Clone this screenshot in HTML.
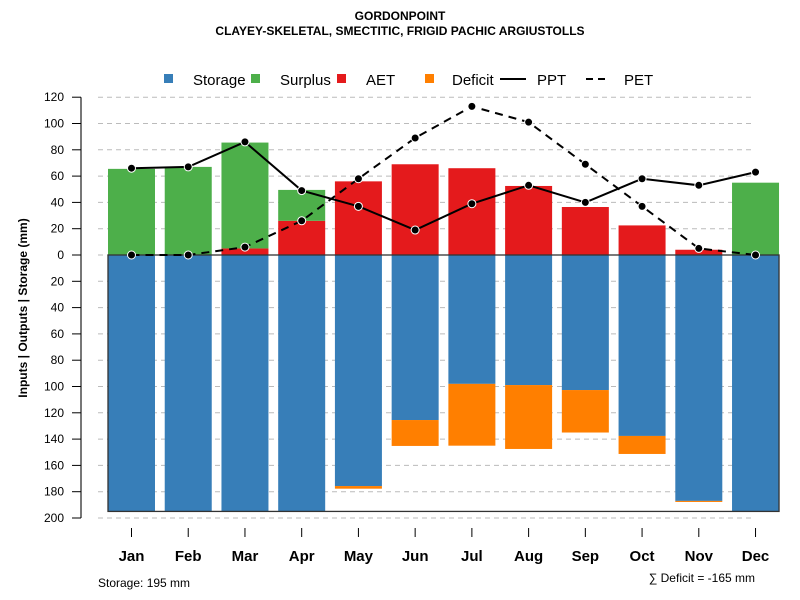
<!DOCTYPE html>
<html><head><meta charset="utf-8"><style>
body{margin:0;background:#fff}
svg{display:block;font-family:"Liberation Sans",sans-serif}
</style></head><body>
<svg id="chart" width="800" height="600">
<text x="400" y="20" text-anchor="middle" font-size="12" font-weight="bold">GORDONPOINT</text>
<text x="400" y="35" text-anchor="middle" font-size="12" font-weight="bold">CLAYEY-SKELETAL, SMECTITIC, FRIGID PACHIC ARGIUSTOLLS</text>
<g font-size="15">
<rect x="164" y="74" width="9" height="9" fill="#377EB8"/>
<text x="193" y="85">Storage</text>
<rect x="251" y="74" width="9" height="9" fill="#4DAF4A"/>
<text x="280" y="85">Surplus</text>
<rect x="337" y="74" width="9" height="9" fill="#E41A1C"/>
<text x="366" y="85">AET</text>
<rect x="425" y="74" width="9" height="9" fill="#FF7F00"/>
<text x="452" y="85">Deficit</text>
<line x1="500" y1="79" x2="526" y2="79" stroke="#000" stroke-width="2"/>
<text x="537" y="85">PPT</text>
<line x1="586" y1="79" x2="610" y2="79" stroke="#000" stroke-width="2" stroke-dasharray="7,5"/>
<text x="624" y="85">PET</text>
</g>
<text transform="translate(27,308) rotate(-90)" text-anchor="middle" font-size="12" font-weight="bold">Inputs | Outputs | Storage     (mm)</text>
<text x="98" y="587" font-size="12">Storage: 195 mm</text>
<text x="755" y="582" text-anchor="end" font-size="12">∑ Deficit = -165 mm</text>
<g id="grid"></g><g id="bars"></g><g id="lines"></g><g id="axes"></g>
</svg>
<script>
const months=["Jan","Feb","Mar","Apr","May","Jun","Jul","Aug","Sep","Oct","Nov","Dec"];
const aet=[0,0,5,26,56,69,66,52.5,36.5,22.5,4,0];
const surplus=[65.5,67,80.5,23.5,0,0,0,0,0,0,0,55];
const storage=[195,195,195,195,175.7,125.5,98,98.9,102.7,137.6,187,195];
const deficit=[0,0,0,0,2,19.7,47,48.6,32.3,13.7,0.8,0];
const ppt=[66,67,86,49,37,19,39,53,40,58,53,63];
const pet=[0,0,6,26,58,89,113,101,69,37,5,0];
const yTicks=[120,100,80,60,40,20,0,20,40,60,80,100,120,140,160,180,200];
const NS="http://www.w3.org/2000/svg";
const y0=255,k=1.315;
const yUp=v=>y0-v*k, yDn=v=>y0+v*k;
const xC=i=>131.5+i*56.73, bw=47;
function mk(p,t,a){const e=document.createElementNS(NS,t);for(const n in a)e.setAttribute(n,a[n]);p.appendChild(e);return e;}
const grid=document.getElementById('grid'),bars=document.getElementById('bars'),lines=document.getElementById('lines'),axes=document.getElementById('axes');
mk(axes,'line',{x1:81,y1:yUp(120),x2:81,y2:yDn(200),stroke:'#777','stroke-width':2});
yTicks.forEach((t,i)=>{const yy=i<6?yUp(t):yDn(t);
 const g=mk(grid,'line',{x1:98,y1:yy,x2:755,y2:yy,stroke:'#bbb','stroke-dasharray':'5,4'});
 
 
 mk(axes,'line',{x1:72,y1:yy,x2:81,y2:yy,stroke:'#000'});
 const tx=mk(axes,'text',{x:64,y:yy+4,'text-anchor':'end','font-size':12});tx.textContent=t;
 
 });
months.forEach((m,i)=>{const x=xC(i);
 const s=mk(bars,'rect',{x:x-bw/2,y:y0,width:bw,height:storage[i]*k,fill:'#377EB8'});
 
 
 if(deficit[i]>0){const d=mk(bars,'rect',{x:x-bw/2,y:yDn(storage[i]),width:bw,height:deficit[i]*k,fill:'#FF7F00'});
 
 }
 if(aet[i]>0){const a=mk(bars,'rect',{x:x-bw/2,y:yUp(aet[i]),width:bw,height:aet[i]*k,fill:'#E41A1C'});
 
 }
 if(surplus[i]>0){const u=mk(bars,'rect',{x:x-bw/2,y:yUp(aet[i]+surplus[i]),width:bw,height:surplus[i]*k,fill:'#4DAF4A'});
 
 }
 mk(axes,'line',{x1:x,y1:528,x2:x,y2:537,stroke:'#000'});
 const t=mk(axes,'text',{x:x,y:561,'text-anchor':'middle','font-size':15,'font-weight':'bold'});t.textContent=m;
 
 });
mk(bars,'rect',{x:xC(0)-bw/2,y:y0,width:xC(11)-xC(0)+bw,height:195*k,fill:'none',stroke:'#333','stroke-width':1.3});
function series(vals,dash,name){
 const p=mk(lines,'polyline',{points:vals.map((v,i)=>xC(i)+','+yUp(v)).join(' '),fill:'none',stroke:'#000','stroke-width':2,'stroke-dasharray':dash});
 
 
 vals.forEach((v,i)=>{const c=mk(lines,'circle',{cx:xC(i),cy:yUp(v),r:4,fill:'#000',stroke:'#fff','stroke-width':1});
 
 });}
series(pet,'8,6','pet');
series(ppt,'none','ppt');
</script>
</body></html>
